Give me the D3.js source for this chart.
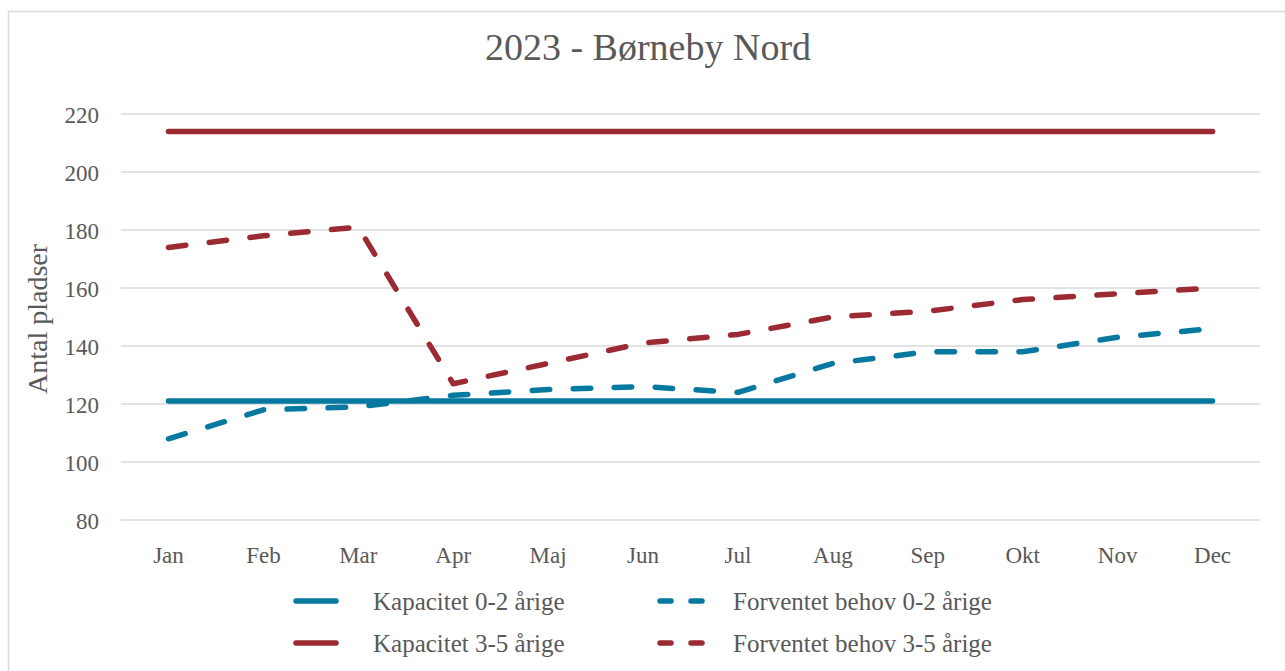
<!DOCTYPE html>
<html><head><meta charset="utf-8">
<script src="https://cdn.jsdelivr.net/npm/d3@7"></script>
<style>body{margin:0;background:#fff}svg{display:block}text{font-family:"Liberation Serif","DejaVu Serif",serif;fill:#595959}</style>
</head><body><svg id="c" width="1285" height="671"></svg>
<script>
const months = ["Jan","Feb","Mar","Apr","Maj","Jun","Jul","Aug","Sep","Okt","Nov","Dec"];
const kap02 = [121,121,121,121,121,121,121,121,121,121,121,121];
const kap35 = [214,214,214,214,214,214,214,214,214,214,214,214];
const forv02 = [108,118,119,123,125,126,124,134,138,138,143,146];
const forv35 = [174,178,181,127,134,141,144,150,152,156,158,160];
const yTicks = [80,100,120,140,160,180,200,220];
const title = "2023 - Børneby Nord";
const yTitle = "Antal pladser";

const series = [
  {name:"Kapacitet 0-2 årige", values:kap02, color:"#0579A0", dash:null},
  {name:"Forventet behov 0-2 årige", values:forv02, color:"#0579A0", dash:"17.5,23.5"},
  {name:"Kapacitet 3-5 årige", values:kap35, color:"#9B2A33", dash:null},
  {name:"Forventet behov 3-5 årige", values:forv35, color:"#9B2A33", dash:"17.5,23.5"}
];

const svg = d3.select("#c");
svg.append("rect").attr("x",8.5).attr("y",11.5).attr("width",1290).attr("height",680)
  .attr("fill","none").attr("stroke","#d9d9d9").attr("stroke-width",1.5);

const x = d3.scaleBand().domain(months).range([121,1260]);
const y = d3.scaleLinear().domain([80,220]).range([520,114]);

// grid
svg.append("g").selectAll("line").data(yTicks).join("line")
  .attr("x1",121).attr("x2",1260).attr("y1",d=>y(d)).attr("y2",d=>y(d))
  .attr("stroke","#d9d9d9").attr("stroke-width",1.5);

// y axis labels
const ya = svg.append("g").attr("transform","translate(99,0)")
  .call(d3.axisLeft(y).tickValues(yTicks).tickSize(0).tickPadding(0));
ya.select(".domain").remove();
ya.selectAll("text").style("font-family","Liberation Serif").style("font-size","23px").attr("fill","#595959").attr("dy","0.36em");

// x axis labels
const xa = svg.append("g").attr("transform","translate(0,563)")
  .call(d3.axisBottom(x).tickSize(0).tickPadding(0));
xa.select(".domain").remove();
xa.selectAll("text").style("font-family","Liberation Serif").style("font-size","23px").attr("fill","#595959").attr("y",0).attr("dy","0");

// lines
const line = d3.line().x((d,i)=>x(months[i])+x.bandwidth()/2).y(d=>y(d));
const drawOrder = [series[0],series[2],series[1],series[3]];
svg.append("g").selectAll("path").data(drawOrder).join("path")
  .attr("d",d=>line(d.values)).attr("fill","none").attr("stroke",d=>d.color)
  .attr("stroke-width",5.5).attr("stroke-linecap","round").attr("stroke-linejoin","round")
  .attr("stroke-dasharray",d=>d.dash);

// title
svg.append("text").attr("x",648).attr("y",60).attr("text-anchor","middle")
  .style("font-size","38px").text(title);

// y title
svg.append("text").attr("transform","translate(47,319) rotate(-90)").attr("text-anchor","middle")
  .style("font-size","28px").text(yTitle);

// legend
const legPos = [[296,601,77],[660,601,73],[296,643,77],[660,643,73]];
const lg = svg.append("g").selectAll("g").data(series).join("g")
  .attr("transform",(d,i)=>`translate(${legPos[i][0]},${legPos[i][1]})`);
lg.append("line").attr("x1",0).attr("x2",d=>d.dash?42:40).attr("y1",0).attr("y2",0)
  .attr("stroke",d=>d.color).attr("stroke-width",5.5).attr("stroke-linecap","round")
  .attr("stroke-dasharray",d=>d.dash?"11,20":null);
lg.append("text").attr("x",(d,i)=>legPos[i][2]).attr("y",0).attr("dy","0.35em").style("font-size","25px").text(d=>d.name);
</script></body></html>
